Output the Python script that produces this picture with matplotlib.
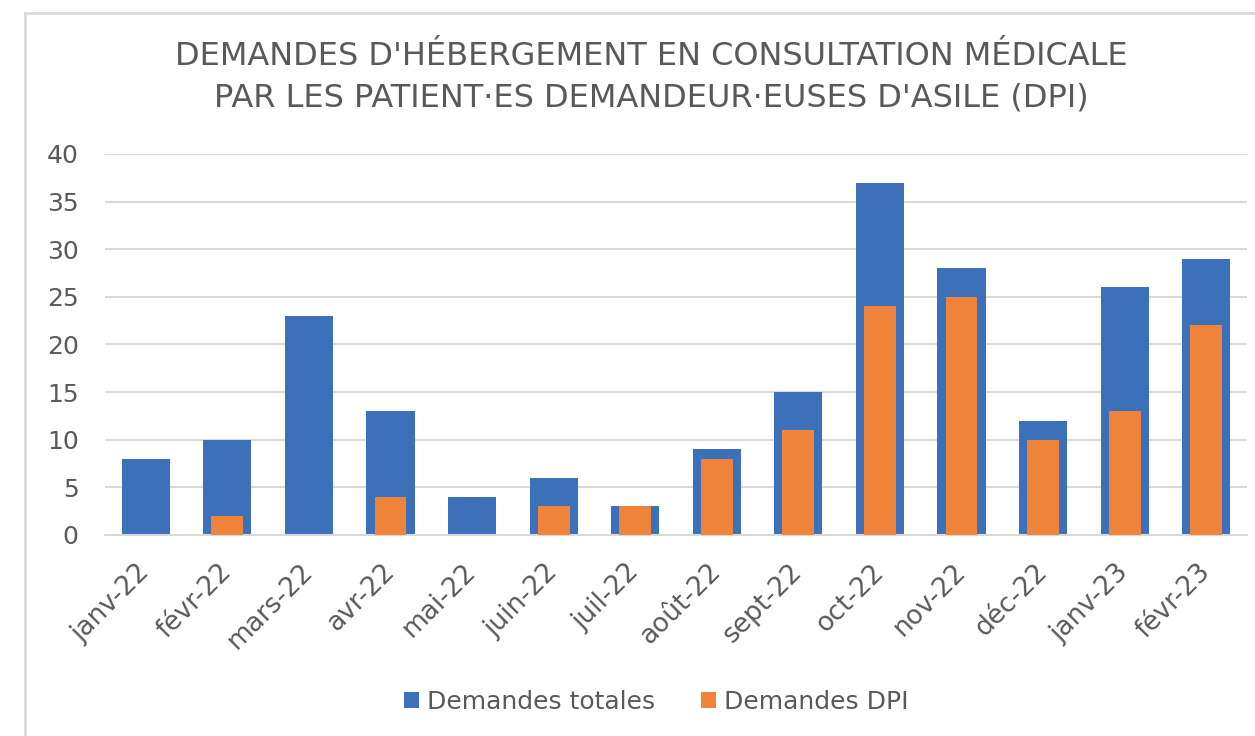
import matplotlib
matplotlib.use("Agg")
import matplotlib.pyplot as plt
import numpy as np
from matplotlib.patches import Rectangle

# données
mois = ["janv-22", "févr-22", "mars-22", "avr-22", "mai-22", "juin-22", "juil-22",
        "août-22", "sept-22", "oct-22", "nov-22", "déc-22", "janv-23", "févr-23"]
demandes_totales = [8, 10, 23, 13, 4, 6, 3, 9, 15, 37, 28, 12, 26, 29]
demandes_dpi = [0, 2, 0, 4, 0, 3, 3, 8, 11, 24, 25, 10, 13, 22]

gris = "#595959"
bleu = "#3C71BA"
orange = "#F0833A"

plt.rcParams["font.family"] = ["DejaVu Sans"]

fig = plt.figure(figsize=(12.55, 7.36), dpi=100)
ax = fig.add_axes([0.0837, 0.2731, 0.9099, 0.5177])

x = np.arange(len(mois))
ax.bar(x, demandes_totales, width=0.59, color=bleu, label="Demandes totales", zorder=2)
ax.bar(x, demandes_dpi, width=0.39, color=orange, label="Demandes DPI", zorder=3)

ax.set_xlim(-0.5, len(mois) - 0.5)
ax.set_ylim(0, 40)
ax.set_yticks(range(0, 41, 5))
ax.yaxis.grid(True, color="#d9d9d9", linewidth=1.5, zorder=0)
ax.set_axisbelow(True)
for s in ["top", "right", "left"]:
    ax.spines[s].set_visible(False)
ax.spines["bottom"].set_color("#d9d9d9")
ax.spines["bottom"].set_linewidth(1.5)
ax.tick_params(axis="both", length=0, labelsize=18, colors=gris)
ax.tick_params(axis="y", pad=19)
ax.set_xticks(x)
ax.set_xticklabels(mois, rotation=45, ha="right", rotation_mode="anchor", fontsize=19)
for t in ax.get_xticklabels():
    t.set_transform(t.get_transform() + matplotlib.transforms.ScaledTranslation(-0.09, -0.19, fig.dpi_scale_trans))

fig.text(0.519, 0.895, "DEMANDES D'HÉBERGEMENT EN CONSULTATION MÉDICALE\nPAR LES PATIENT·ES DEMANDEUR·EUSES D'ASILE (DPI)",
         ha="center", va="center", fontsize=23, color=gris, linespacing=1.42)

fig.legend(loc="center", bbox_to_anchor=(0.523, 0.046), ncol=2, frameon=False,
           fontsize=18, labelcolor=gris, handlelength=0.6, handleheight=0.6,
           handletextpad=0.35, columnspacing=1.8)

# cadre du graphique
fig.patches.append(Rectangle((0.02, -0.1), 1.2, 1.082, transform=fig.transFigure,
                             fill=False, edgecolor="#d9d9d9", linewidth=2, clip_on=False))

fig.savefig("out.png", dpi=100, facecolor="white")
